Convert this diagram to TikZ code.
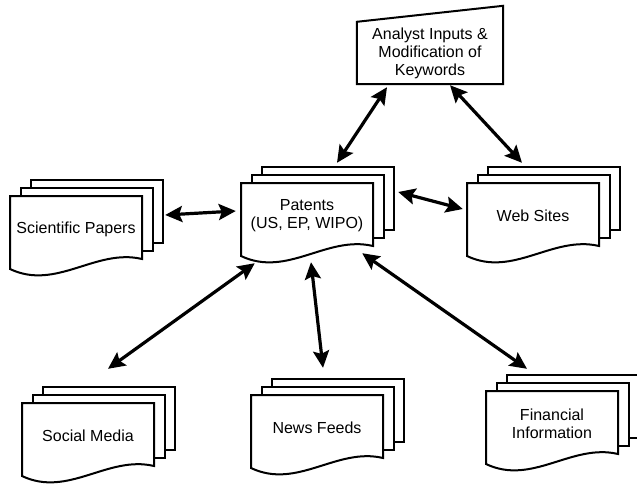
\documentclass[tikz,border=0pt]{standalone}
\usepackage{fontspec}
\setmainfont{Liberation Sans}
\usetikzlibrary{arrows.meta}

\tikzset{
	page/.style={draw=black, line width=2pt, fill=white},
	doctext/.style={minimum width=132pt, minimum height=66pt, inner sep=0pt, align=center, font=\fontsize{16}{18}\selectfont},
	link/.style={line width=3.2pt, {Stealth[length=17pt,width=16pt,inset=3pt]}-{Stealth[length=17pt,width=16pt,inset=3pt]}},
}

% stack of three pages, front one with a wavy bottom
\newcommand{\docstack}[3]{%
	\begin{scope}[shift={#2}]
		\draw[page] (-45,-49) rectangle ++(132,63);
		\draw[page] (-55.5,-41) rectangle ++(132,63);
		\draw[page] (-66,-33) -- (66,-33) -- (66,30) .. controls (19.8,19) and (-19.8,62) .. (-66,40) -- cycle;
		\node[doctext] (#1) at (0,0) {#3};
	\end{scope}}

\begin{document}
\begin{tikzpicture}[x=1pt,y=-1pt]
		
		\fill[white] (0,0) rectangle (637,483);
		\useasboundingbox (0,0) rectangle (637,483);
		
		\node[doctext, minimum width=146pt, minimum height=62pt] (analyst) at (430,53) {Analyst Inputs \&\\Modification of\\Keywords};
		\draw[page, fill=none] (analyst.south west) -- (analyst.north west) -- ([shift={(0,-16)}]analyst.north east) -- (analyst.south east) -- cycle;
		
		\docstack{sci}{(76,229)}{Scientific Papers}
		\docstack{pat}{(307,216)}{Patents\\(US, EP, WIPO)}
		\docstack{web}{(533,216)}{Web Sites}
		\docstack{soc}{(88,436)}{Social Media}
		\docstack{news}{(317,428)}{News Feeds}
		\docstack{fin}{(552,424)}{Financial\\Information}
		
		\draw[link] ([shift={(-43,3)}]analyst.south) -- ([shift={(30,-20)}]pat.north);
		\draw[link] ([shift={(20,1)}]analyst.south) -- ([shift={(-11,-20)}]web.north);
		\draw[link] ([shift={(23,-14)}]sci.east) -- ([shift={(-5,-5)}]pat.west);
		\draw[link] ([shift={(25,-24)}]pat.east) -- ([shift={(-4,-7)}]web.west);
		\draw[link] ([shift={(14,14)}]pat.south west) -- ([shift={(20,-34)}]soc.north);
		\draw[link] ([shift={(4,13)}]pat.south) -- ([shift={(6,-27)}]news.north);
		\draw[link] ([shift={(-11,4)}]pat.south east) -- ([shift={(-25,-22)}]fin.north);
		
	\end{tikzpicture}
\end{document}
